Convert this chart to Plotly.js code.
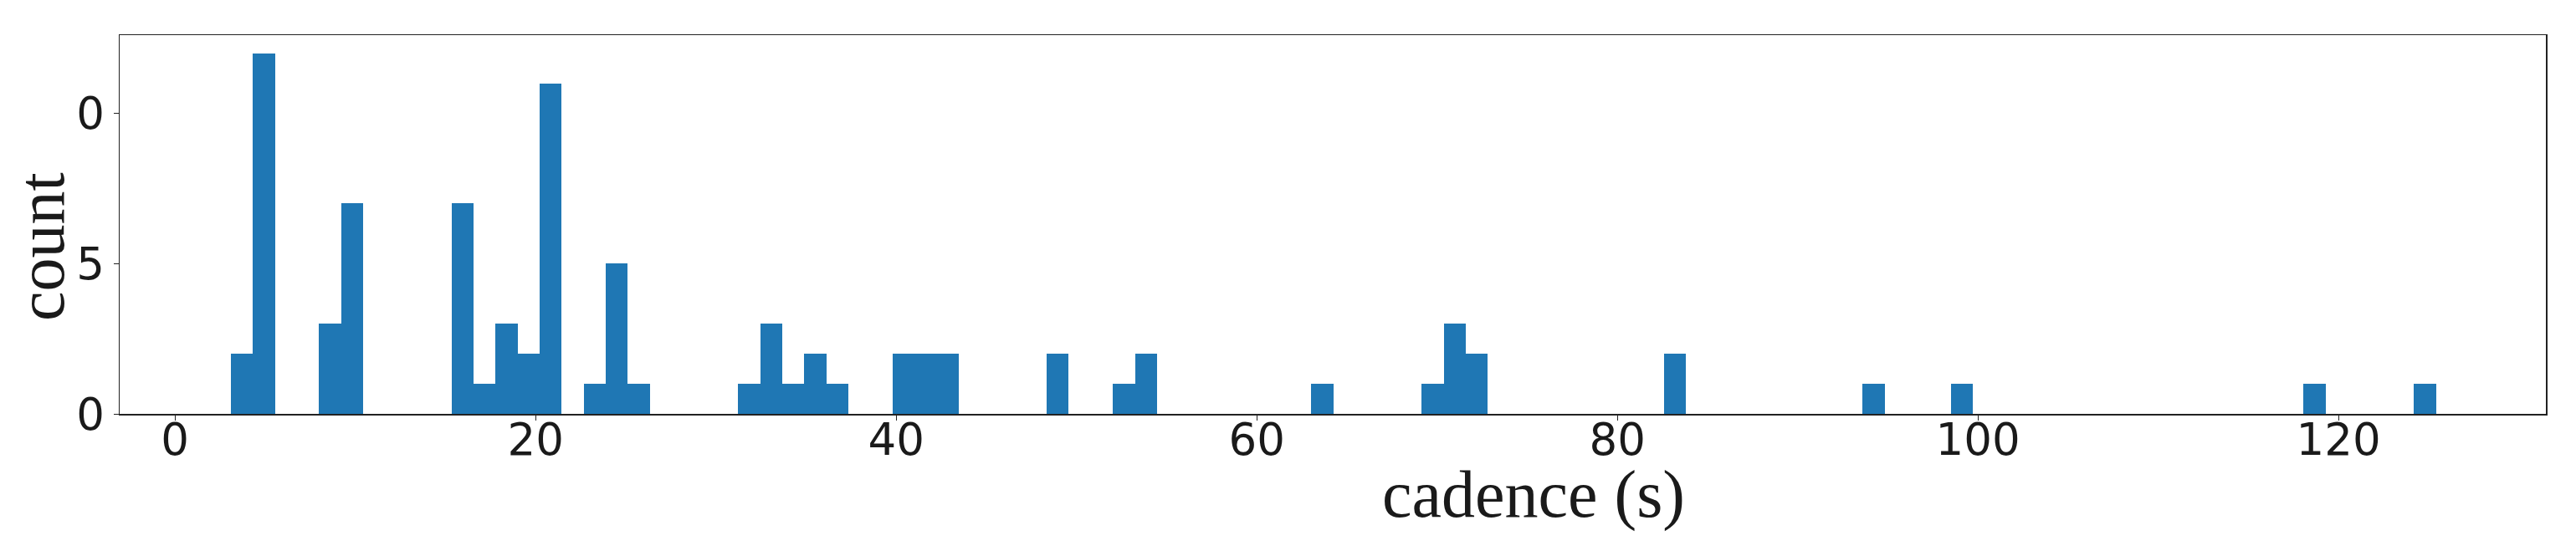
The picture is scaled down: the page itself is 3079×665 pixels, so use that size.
<!DOCTYPE html>
<html>
<head>
<meta charset="utf-8">
<script src="https://cdn.plot.ly/plotly-3.0.1.min.js"></script>
<style>
  html, body { margin: 0; padding: 0; background: #fff; }
  #cadence-hist { width: 3079px; height: 665px; }
</style>
</head>
<body>
<div id="cadence-hist"></div>
<script>
// histogram bins (100 bins between min and max cadence)
var binStart = 3.1;
var binWidth = 1.223;

// non-empty bins: bin number and count
var binIndex = [0, 1, 4, 5, 10, 11, 12, 13, 14, 16, 17, 18, 23, 24, 25, 26, 27,
                30, 31, 32, 37, 40, 41, 49, 54, 55, 56, 65, 74, 78, 94, 99];
var counts   = [2, 12, 3, 7, 7, 1, 3, 2, 11, 1, 5, 1, 1, 3, 1, 2, 1,
                2, 2, 2, 2, 1, 2, 1, 1, 3, 2, 2, 1, 1, 1, 1];

var xTicks = [0, 20, 40, 60, 80, 100, 120];
var yTicks = [0, 5, 10];
var yTickText = ['0', '5', '0'];

var centers = binIndex.map(function (i) { return binStart + (i + 0.5) * binWidth; });

var data = [
    {
        x: centers,
        y: counts,
        width: binWidth,
        type: 'bar',
        marker: { color: '#1f77b4', line: { width: 0 } },
        hoverinfo: 'x+y'
    }
];

var serif = 'Liberation Serif, Times New Roman, serif';

var layout = {
    width: 3079,
    height: 665,
    margin: { l: 143, r: 36, t: 42, b: 170 },
    paper_bgcolor: '#fff',
    plot_bgcolor: '#fff',
    showlegend: false,
    bargap: 0,
    font: { family: 'DejaVu Sans, sans-serif', color: '#222' },
    xaxis: {
        range: [-3.07, 131.5],
        tickvals: xTicks,
        ticks: 'outside', ticklen: 6, tickwidth: 1, tickcolor: '#222',
        ticklabelstandoff: -22,
        tickfont: { size: 53, family: 'DejaVu Sans', color: '#1a1a1a' },
        showgrid: false, zeroline: false,
        showline: true, mirror: true, linecolor: '#222', linewidth: 1.5
    },
    yaxis: {
        range: [0, 12.6],
        tickvals: yTicks,
        ticktext: yTickText,
        ticks: 'outside', ticklen: 6, tickwidth: 1, tickcolor: '#222',
        tickfont: { size: 53, family: 'DejaVu Sans', color: '#1a1a1a' },
        showgrid: false, zeroline: false,
        showline: true, mirror: true, linecolor: '#222', linewidth: 1.5
    },
    annotations: [
        {
            text: 'cadence (s)', xref: 'paper', yref: 'paper',
            x: 0.5828, y: -0.214, xanchor: 'center', yanchor: 'middle',
            showarrow: false, font: { family: serif, size: 80, color: '#1a1a1a' }
        },
        {
            text: 'count', xref: 'paper', yref: 'paper', textangle: -90,
            x: -0.0324, y: 0.4415, xanchor: 'center', yanchor: 'middle',
            showarrow: false, font: { family: serif, size: 80, color: '#1a1a1a' }
        }
    ]
};

Plotly.newPlot('cadence-hist', data, layout, { displayModeBar: false, staticPlot: true });
</script>
</body>
</html>
